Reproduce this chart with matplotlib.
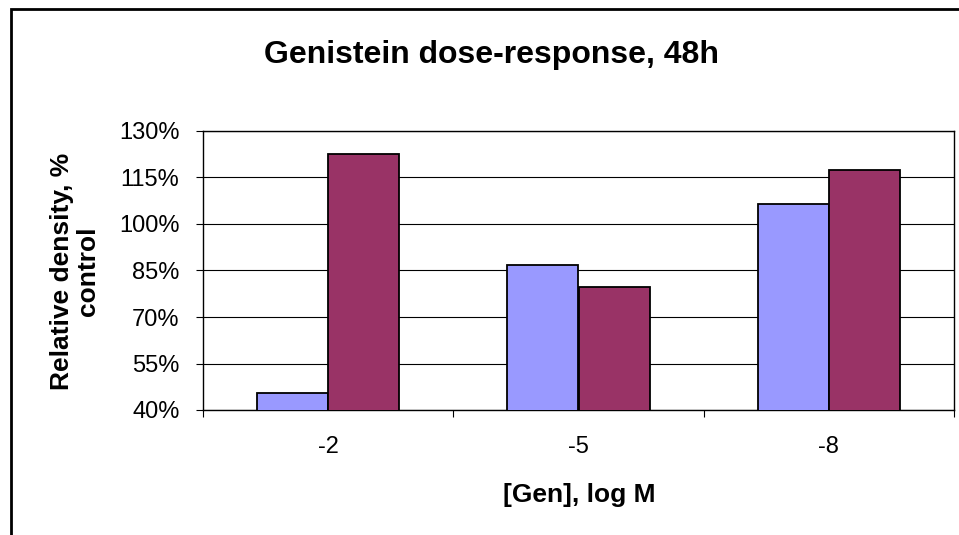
import matplotlib.pyplot as plt
from matplotlib.patches import Rectangle
from matplotlib.ticker import FuncFormatter

plt.rcParams['font.family'] = ['Liberation Sans', 'DejaVu Sans']

# data
doses = ["-2", "-5", "-8"]
series_a = [45.6, 86.7, 106.6]   # blue bars, % of control
series_b = [122.7, 79.6, 117.5]  # red bars, % of control
y_ticks = [40, 55, 70, 85, 100, 115, 130]

W, H = 959, 535
fig = plt.figure(figsize=(W / 100, H / 100), dpi=100)
ax = fig.add_axes([203 / W, 1 - 410 / H, (954 - 203) / W, (410 - 131) / H])

x = list(range(len(doses)))
bw = 0.284
ax.bar([i - bw / 2 for i in x], series_a, width=bw, bottom=0, color="#9999FF",
       edgecolor="black", linewidth=1.3, zorder=3)
ax.bar([i + bw / 2 for i in x], series_b, width=bw, bottom=0, color="#993366",
       edgecolor="black", linewidth=1.3, zorder=3)

ax.set_xlim(-0.5, len(doses) - 0.5)
ax.set_ylim(40, 130)
ax.set_yticks(y_ticks)
ax.yaxis.set_major_formatter(FuncFormatter(lambda v, p: "%d%%" % v))
ax.yaxis.grid(True, color="black", linewidth=0.8, zorder=0)

ax.set_xticks(x)
ax.set_xticklabels(doses)
ax.set_xticks([-0.5, 0.5, 1.5, 2.5], minor=True)
ax.tick_params(axis="x", which="major", length=0, pad=19, labelsize=17)
ax.tick_params(axis="x", which="minor", length=5, width=0.8, direction="out")
ax.tick_params(axis="y", length=5, width=0.8, direction="out", pad=12, labelsize=17)

for s in ax.spines.values():
    s.set_linewidth(1.0)
    s.set_color("black")

fig.text(491 / W, 1 - 55 / H, "Genistein dose-response, 48h", ha="center",
         va="center", fontsize=23, fontweight="bold")
fig.text(579 / W, 1 - 495 / H, "[Gen], log M", ha="center", va="center",
         fontsize=19, fontweight="bold")
fig.text(75 / W, 1 - 271 / H, "Relative density, %\ncontrol", ha="center",
         va="center", rotation=90, fontsize=19, fontweight="bold",
         multialignment="center", linespacing=1.15)

# outer chart border
fig.patches.append(Rectangle((11 / W, -0.1), 1.2, 1 - 9 / H + 0.1,
                             transform=fig.transFigure, fill=False,
                             edgecolor="black", linewidth=2, zorder=10))

fig.savefig("out.png", dpi=100)
